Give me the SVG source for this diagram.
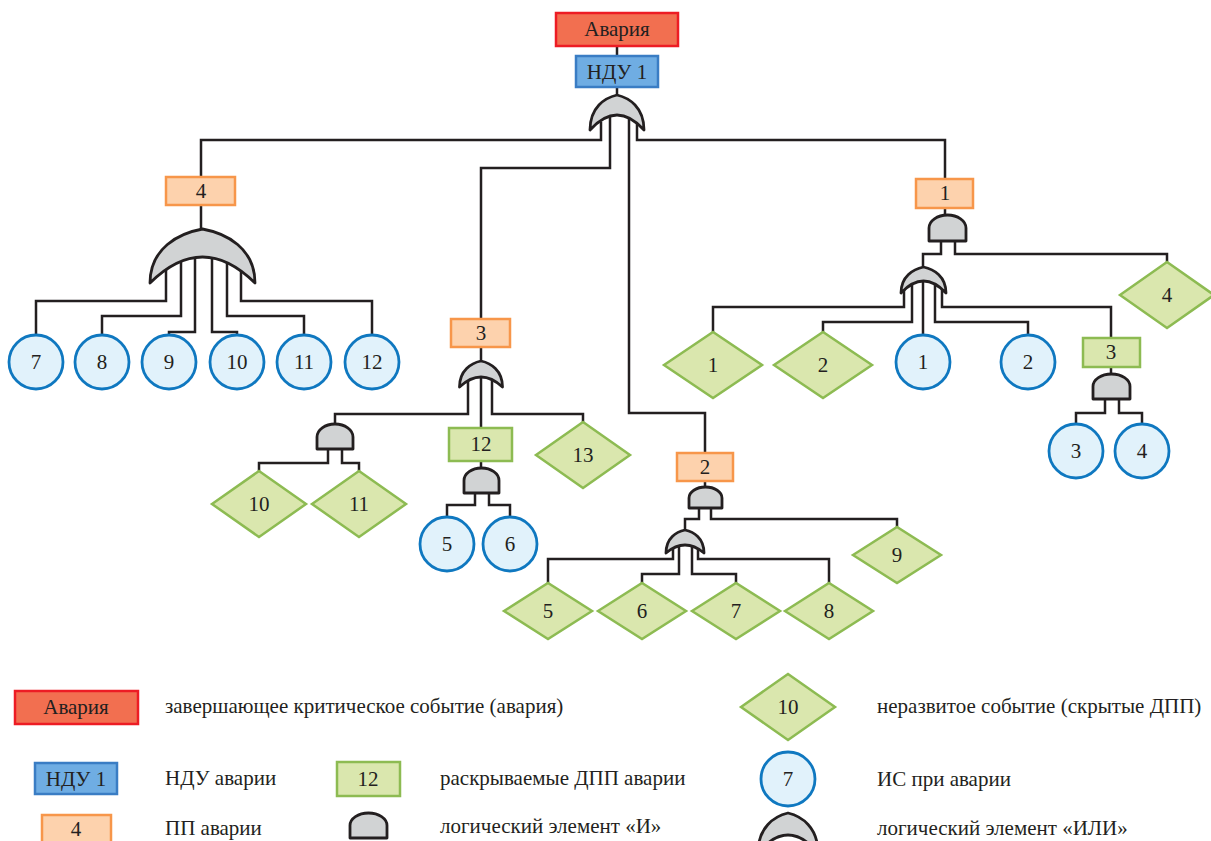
<svg xmlns="http://www.w3.org/2000/svg" width="1211" height="841" viewBox="0 0 1211 841" font-family="'Liberation Serif', 'Times New Roman', 'DejaVu Serif', serif">
<style>
text{font-family:"Liberation Serif","Times New Roman","DejaVu Serif",serif;font-size:21px;fill:#231f20}
.c{text-anchor:middle}
.ln{fill:none;stroke:#231f20;stroke-width:2.5}
.gate{fill:#d1d3d4;stroke:#231f20;stroke-width:2.8;stroke-linejoin:round}
.top{fill:#f26f50;stroke:#ed1c24;stroke-width:2.5}
.ndu{fill:#6fade3;stroke:#3a7dc4;stroke-width:2.5}
.pp{fill:#fdd2ad;stroke:#f7964a;stroke-width:2.5}
.dpp{fill:#dae7ae;stroke:#8dbb52;stroke-width:2.5}
.dia{fill:#dae7ae;stroke:#8dbb52;stroke-width:2.5}
.is{fill:#e1f2fb;stroke:#0f78c0;stroke-width:2.8}
</style>
<rect width="1211" height="841" fill="#ffffff"/>
<g id="connectors">
<polyline class="ln" points="617,46 617,56"/>
<polyline class="ln" points="617,87 617,97"/>
<polyline class="ln" points="601,122 601,140 201,140 201,177"/>
<polyline class="ln" points="610,112 610,168 481,168 481,319"/>
<polyline class="ln" points="629,112 629,413 705,413 705,453"/>
<polyline class="ln" points="637,122 637,140 945,140 945,179"/>
<polyline class="ln" points="201,205 201,231"/>
<polyline class="ln" points="166,265 166,301 36,301 36,335"/>
<polyline class="ln" points="181,262 181,316 102,316 102,335"/>
<polyline class="ln" points="195,258 195,332 169,332 169,335"/>
<polyline class="ln" points="212,258 212,332 237,332 237,335"/>
<polyline class="ln" points="227,262 227,316 304,316 304,335"/>
<polyline class="ln" points="241,265 241,301 372,301 372,335"/>
<polyline class="ln" points="481,347 481,363"/>
<polyline class="ln" points="468,375 468,414 335,414 335,425"/>
<polyline class="ln" points="481,372 481,428"/>
<polyline class="ln" points="492,375 492,414 583,414 583,423"/>
<polyline class="ln" points="328,448 328,463 259,463 259,472"/>
<polyline class="ln" points="342,448 342,463 359,463 359,472"/>
<polyline class="ln" points="481,461 481,469"/>
<polyline class="ln" points="475,492 475,505 447,505 447,517"/>
<polyline class="ln" points="489,492 489,505 510,505 510,517"/>
<polyline class="ln" points="705,481 705,488"/>
<polyline class="ln" points="699,507 699,519 685,519 685,531"/>
<polyline class="ln" points="711,507 711,519 897,519 897,527"/>
<polyline class="ln" points="673,545 673,559 548,559 548,583"/>
<polyline class="ln" points="679,540 679,574 642,574 642,583"/>
<polyline class="ln" points="692,540 692,574 736,574 736,583"/>
<polyline class="ln" points="698,545 698,559 829,559 829,583"/>
<polyline class="ln" points="945,208 945,216"/>
<polyline class="ln" points="941,240 941,254 923,254 923,268"/>
<polyline class="ln" points="955,240 955,254 1167,254 1167,262"/>
<polyline class="ln" points="904,285 904,307 713,307 713,332"/>
<polyline class="ln" points="912,283 912,322 823,322 823,332"/>
<polyline class="ln" points="923,281 923,336"/>
<polyline class="ln" points="935,283 935,322 1028,322 1028,336"/>
<polyline class="ln" points="942,285 942,307 1111,307 1111,338"/>
<polyline class="ln" points="1111,367 1111,375"/>
<polyline class="ln" points="1105,398 1105,413 1076,413 1076,425"/>
<polyline class="ln" points="1119,398 1119,413 1142,413 1142,425"/>
</g>
<g id="top-event"><rect class="top" x="556" y="13" width="122" height="33"/><text class="c" x="617" y="36">Авария</text></g>
<g id="ndu1"><rect class="ndu" x="576" y="56" width="82" height="31"/><text class="c" x="617" y="79">НДУ 1</text></g>
<g id="or-top"><path class="gate" d="M590,130 C590,107.25 604.85,97.8 617,95 C629.15,97.8 644,107.25 644,130 Q617,100 590,130 Z"/></g>
<g id="pp4"><rect class="pp" x="166" y="177" width="69" height="28"/><text class="c" x="201" y="198">4</text></g>
<g id="or-4"><path class="gate" d="M150,283 C150,247.9 178.9,233.3 202.5,229 C226.1,233.3 255,247.9 255,283 Q202.5,231 150,283 Z"/></g>
<g id="is7"><circle class="is" cx="36" cy="362" r="27"/><text class="c" x="36" y="369">7</text></g>
<g id="is8"><circle class="is" cx="102" cy="362" r="27"/><text class="c" x="102" y="369">8</text></g>
<g id="is9"><circle class="is" cx="169" cy="362" r="27"/><text class="c" x="169" y="369">9</text></g>
<g id="is10"><circle class="is" cx="237" cy="362" r="27"/><text class="c" x="237" y="369">10</text></g>
<g id="is11"><circle class="is" cx="304" cy="362" r="27"/><text class="c" x="304" y="369">11</text></g>
<g id="is12"><circle class="is" cx="372" cy="362" r="27"/><text class="c" x="372" y="369">12</text></g>
<g id="pp3"><rect class="pp" x="451" y="319" width="59" height="28"/><text class="c" x="481" y="340">3</text></g>
<g id="or-3"><path class="gate" d="M459.5,387 C459.5,370.1 471.3,363.1 481,361 C490.7,363.1 502.5,370.1 502.5,387 Q481,367 459.5,387 Z"/></g>
<g id="and-3a"><path class="gate" d="M317,449 V437 A18,13 0 0 1 353,437 V449 Z"/></g>
<g id="d10"><polygon class="dia" points="212,504 259,471 306,504 259,537"/><text class="c" x="259" y="511">10</text></g>
<g id="d11"><polygon class="dia" points="312,504 359,471 406,504 359,537"/><text class="c" x="359" y="511">11</text></g>
<g id="dpp12"><rect class="dpp" x="449" y="428" width="63" height="33"/><text class="c" x="481" y="451">12</text></g>
<g id="and-12"><path class="gate" d="M464,493 V480.5 A17.5,12.5 0 0 1 499,480.5 V493 Z"/></g>
<g id="is5"><circle class="is" cx="447" cy="544" r="27"/><text class="c" x="447" y="551">5</text></g>
<g id="is6"><circle class="is" cx="510" cy="544" r="27"/><text class="c" x="510" y="551">6</text></g>
<g id="d13"><polygon class="dia" points="536,455 583,422 630,455 583,488"/><text class="c" x="583" y="462">13</text></g>
<g id="pp2"><rect class="pp" x="677" y="453" width="56" height="28"/><text class="c" x="705" y="474">2</text></g>
<g id="and-2"><path class="gate" d="M689,508 V498 A16.5,11 0 0 1 722,498 V508 Z"/></g>
<g id="or-2"><path class="gate" d="M666,553 C666,538 676.5,531.8 685,530 C693.5,531.8 704,538 704,553 Q685,537 666,553 Z"/></g>
<g id="d5"><polygon class="dia" points="504,611 548,583 592,611 548,639"/><text class="c" x="548" y="618">5</text></g>
<g id="d6"><polygon class="dia" points="598,611 642,583 686,611 642,639"/><text class="c" x="642" y="618">6</text></g>
<g id="d7"><polygon class="dia" points="692,611 736,583 780,611 736,639"/><text class="c" x="736" y="618">7</text></g>
<g id="d8"><polygon class="dia" points="785,611 829,583 873,611 829,639"/><text class="c" x="829" y="618">8</text></g>
<g id="d9"><polygon class="dia" points="853,555 897,527 941,555 897,583"/><text class="c" x="897" y="562">9</text></g>
<g id="pp1"><rect class="pp" x="916" y="179" width="57" height="29"/><text class="c" x="945" y="200">1</text></g>
<g id="and-1"><path class="gate" d="M929,241 V228 A18.5,13 0 0 1 966,228 V241 Z"/></g>
<g id="or-1"><path class="gate" d="M901,293 C901,276.1 913.4,269.1 923.5,267 C933.6,269.1 946,276.1 946,293 Q923.5,269 901,293 Z"/></g>
<g id="d4"><polygon class="dia" points="1120,295 1167,262 1214,295 1167,328"/><text class="c" x="1167" y="302">4</text></g>
<g id="d1"><polygon class="dia" points="664,365 713,332 762,365 713,398"/><text class="c" x="713" y="372">1</text></g>
<g id="d2"><polygon class="dia" points="774,365 823,332 872,365 823,398"/><text class="c" x="823" y="372">2</text></g>
<g id="is1"><circle class="is" cx="923" cy="362" r="27"/><text class="c" x="923" y="369">1</text></g>
<g id="is2"><circle class="is" cx="1028" cy="362" r="27"/><text class="c" x="1028" y="369">2</text></g>
<g id="dpp3"><rect class="dpp" x="1083" y="338" width="57" height="29"/><text class="c" x="1111" y="359">3</text></g>
<g id="and-3b"><path class="gate" d="M1093,399 V386.5 A18.5,12.5 0 0 1 1130,386.5 V399 Z"/></g>
<g id="is3"><circle class="is" cx="1076" cy="451" r="27"/><text class="c" x="1076" y="458">3</text></g>
<g id="is4"><circle class="is" cx="1142" cy="451" r="27"/><text class="c" x="1142" y="458">4</text></g>
<g id="legend">
<rect class="top" x="15" y="691" width="123" height="33"/><text class="c" x="76" y="714">Авария</text>
<text x="165" y="713">завершающее критическое событие (авария)</text>
<rect class="ndu" x="35" y="763" width="82" height="31"/><text class="c" x="76" y="786">НДУ 1</text>
<text x="165" y="785">НДУ аварии</text>
<rect class="dpp" x="337" y="762" width="63" height="34"/><text class="c" x="368" y="786">12</text>
<text x="440" y="785">раскрываемые ДПП аварии</text>
<rect class="pp" x="42" y="815" width="69" height="30"/><text class="c" x="76" y="836">4</text>
<text x="165" y="835">ПП аварии</text>
<path class="gate" d="M350,838 V825.5 A18.5,12.5 0 0 1 387,825.5 V838 Z"/>
<text x="440" y="833">логический элемент «И»</text>
<polygon class="dia" points="741,707 788,674 835,707 788,740"/><text class="c" x="788" y="714">10</text>
<text x="877" y="713">неразвитое событие (скрытые ДПП)</text>
<circle class="is" cx="788" cy="779" r="27"/><text class="c" x="788" y="786">7</text>
<text x="877" y="786">ИС при аварии</text>
<path class="gate" d="M758,853 C758,827 774.5,816.2 788,813 C801.5,816.2 818,827 818,853 Q788,817 758,853 Z"/>
<text x="877" y="835">логический элемент «ИЛИ»</text>
</g>
</svg>
